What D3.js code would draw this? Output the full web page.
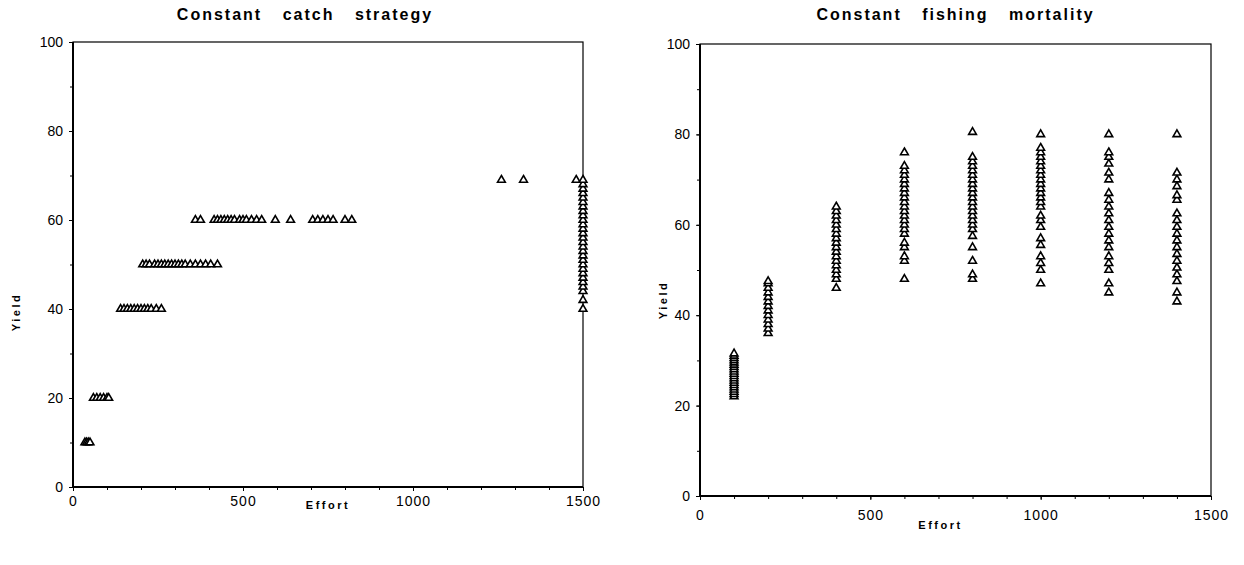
<!DOCTYPE html>
<html>
<head>
<meta charset="utf-8">
<script src="https://cdn.jsdelivr.net/npm/d3@7"></script>
<style>
  body { margin: 0; background: #fff; }
  svg { display: block; font-family: "Liberation Sans", Arial, sans-serif; }
  .title { font-weight: bold; font-size: 16px; letter-spacing: 2px; word-spacing: 14px; }
  .alabel { font-weight: bold; font-size: 11px; letter-spacing: 2.5px; }
  .tick text { font-size: 14px; fill: #000; }
</style>
</head>
<body>
<svg id="chart" width="1244" height="565"></svg>
<script>
// Left panel: constant catch strategy (yield levels with their efforts)
const leftLevels = [10, 20, 40, 50, 60, 69];
const leftEfforts = [
  [35, 40, 45, 50],
  [60, 70, 80, 90, 100, 105],
  [140, 150, 160, 170, 180, 190, 200, 210, 220, 230, 245, 260],
  [205, 215, 225, 240, 250, 260, 270, 280, 290, 300, 310, 320, 330, 345, 360, 375, 390, 405, 425],
  [360, 375, 415, 425, 435, 445, 455, 465, 475, 490, 500, 510, 525, 540, 555, 595, 640, 705, 720, 735, 750, 765, 800, 820],
  [1260, 1325, 1480]
];
// points sitting at the maximum effort
const leftMaxEffort = 1500;
const leftMaxYields = [40, 42, 44, 45, 46, 47, 48, 49, 50, 51, 52, 53, 54, 55, 56, 57, 58, 59, 60, 61, 62, 63, 64, 65, 66, 67, 68, 69];

// Right panel: constant fishing mortality
const rightEfforts = [100, 200, 400, 600, 800, 1000, 1200, 1400];
const rightYields = [
  [22, 22.5, 23, 23.5, 24, 24.5, 25, 25.5, 26, 26.5, 27, 27.5, 28, 28.5, 29, 29.5, 30, 30.5, 31, 31.5],
  [36, 37, 38, 39, 40, 41, 42, 43, 44, 45, 46, 47, 47.5],
  [46, 48, 49, 50, 51, 52, 53, 54, 55, 56, 57, 58, 59, 60, 61, 62, 63, 64],
  [48, 52, 53, 55, 56, 58, 59, 60, 61, 62, 63, 64, 65, 66, 67, 68, 69, 70, 71, 72, 73, 76],
  [48, 49, 52, 55, 57.5, 59, 60, 61, 62, 63, 64, 65, 66, 67, 68, 69, 70, 71, 72, 73, 74, 75, 80.5],
  [47, 50, 51.5, 53, 55.5, 57, 59.5, 61, 62, 64, 65, 66, 67, 68, 69, 70, 71, 72, 73, 74, 75, 76, 77, 80],
  [45, 47, 50, 51.5, 53, 55, 56.5, 58, 59.5, 61, 62.5, 64, 65.5, 67, 70, 71.5, 73.5, 75, 76, 80],
  [43, 45, 47.5, 49, 50.5, 52, 53.5, 55, 56.5, 58, 59.5, 61, 62.5, 65.5, 66.5, 68.5, 70, 71.5, 80]
];

const xTicks = [0, 500, 1000, 1500];
const yTicks = [0, 20, 40, 60, 80, 100];

const svg = d3.select("#chart");
const tri = d3.symbol().type(d3.symbolTriangle).size(26);

function drawPanel(cfg) {
  const x = d3.scaleLinear().domain([0, 1500]).range([cfg.left, cfg.right]);
  const y = d3.scaleLinear().domain([0, 100]).range([cfg.bottom, cfg.top]);
  const g = svg.append("g");

  // minor ticks
  g.append("g")
    .attr("transform", `translate(0,${cfg.bottom})`)
    .call(d3.axisBottom(x).tickValues(d3.range(0, 1501, 100)).tickSize(3).tickFormat(""))
    .call(a => a.select(".domain").remove());
  g.append("g")
    .attr("transform", `translate(${cfg.left},0)`)
    .call(d3.axisLeft(y).tickValues(d3.range(0, 101, 10)).tickSize(3).tickFormat(""))
    .call(a => a.select(".domain").remove());

  // labelled ticks
  const xa = g.append("g")
    .attr("transform", `translate(0,${cfg.bottom})`)
    .call(d3.axisBottom(x).tickValues(xTicks).tickSize(4).tickPadding(cfg.xPad).tickFormat(d3.format("d")));
  xa.select(".domain").remove();
  xa.selectAll("text").attr("letter-spacing", "1px");
  const ya = g.append("g")
    .attr("transform", `translate(${cfg.left},0)`)
    .call(d3.axisLeft(y).tickValues(yTicks).tickSize(4).tickPadding(6));
  ya.select(".domain").remove();

  // frame
  g.append("rect")
    .attr("x", cfg.left).attr("y", cfg.top)
    .attr("width", cfg.right - cfg.left).attr("height", cfg.bottom - cfg.top)
    .attr("fill", "none").attr("stroke", "#000").attr("stroke-width", 1.2);
  g.append("line").attr("x1", cfg.left).attr("x2", cfg.left)
    .attr("y1", cfg.top).attr("y2", cfg.bottom).attr("stroke", "#000").attr("stroke-width", 2);
  g.append("line").attr("x1", cfg.left).attr("x2", cfg.right)
    .attr("y1", cfg.bottom).attr("y2", cfg.bottom).attr("stroke", "#000").attr("stroke-width", 2);

  // points
  g.append("g").selectAll("path")
    .data(cfg.points)
    .join("path")
    .attr("d", tri)
    .attr("transform", d => `translate(${x(d[0])},${y(d[1])})`)
    .attr("fill", "#fff")
    .attr("stroke", "#000")
    .attr("stroke-width", 1.6);

  // titles
  g.append("text").attr("class", "title")
    .attr("x", (cfg.left + cfg.right) / 2 + cfg.titleDx).attr("y", 20)
    .attr("text-anchor", "middle").text(cfg.title);
  g.append("text").attr("class", "alabel")
    .attr("x", (cfg.left + cfg.right) / 2 + cfg.xLabDx).attr("y", cfg.xLabY)
    .attr("text-anchor", "middle").text("Effort");
  g.append("text").attr("class", "alabel")
    .attr("transform", `translate(${cfg.yLabX},${cfg.yLabY}) rotate(-90)`)
    .attr("text-anchor", "middle").text("Yield");
}

const leftPoints = [];
leftLevels.forEach((lv, i) => leftEfforts[i].forEach(e => leftPoints.push([e, lv])));
leftMaxYields.forEach(v => leftPoints.push([leftMaxEffort, v]));

const rightPoints = [];
rightEfforts.forEach((e, i) => rightYields[i].forEach(v => rightPoints.push([e, v])));

drawPanel({
  left: 73, right: 583, top: 42, bottom: 487,
  title: "Constant catch strategy", titleDx: -23,
  xPad: 5, xLabDx: 0, xLabY: 509, yLabX: 20, yLabY: 312,
  points: leftPoints
});

drawPanel({
  left: 700, right: 1211, top: 44, bottom: 496,
  title: "Constant fishing mortality", titleDx: 0,
  xPad: 10, xLabDx: -15, xLabY: 529, yLabX: 667, yLabY: 300,
  points: rightPoints
});
</script>
</body>
</html>
